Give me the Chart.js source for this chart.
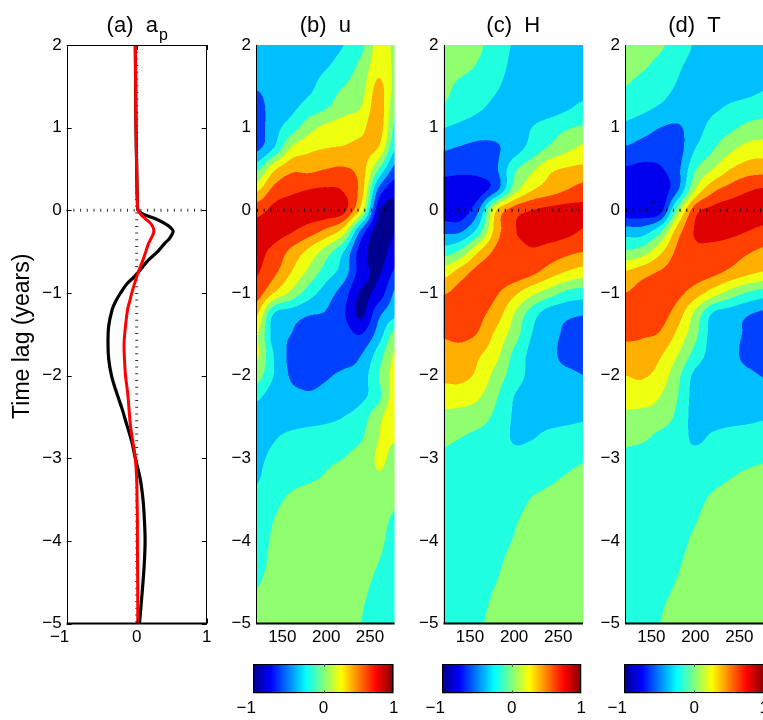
<!DOCTYPE html>
<html><head><meta charset="utf-8">
<script src="https://cdn.jsdelivr.net/npm/chart.js@4.4.1/dist/chart.umd.min.js"></script>
<style>
html,body{margin:0;padding:0;background:#fff;}
body{width:763px;height:720px;overflow:hidden;position:relative;}
canvas{position:absolute;}
</style></head><body>
<canvas id="cA" width="230" height="660" style="left:0px;top:0px;width:230px;height:660px"></canvas>
<canvas id="cB" width="185" height="660" style="left:230px;top:0px;width:185px;height:660px"></canvas>
<canvas id="cC" width="185" height="660" style="left:415px;top:0px;width:185px;height:660px"></canvas>
<canvas id="cD" width="170" height="660" style="left:595px;top:0px;width:170px;height:660px"></canvas>
<canvas id="bB" width="185" height="70" style="left:230px;top:650px;width:185px;height:70px"></canvas>
<canvas id="bC" width="185" height="70" style="left:415px;top:650px;width:185px;height:70px"></canvas>
<canvas id="bD" width="175" height="70" style="left:595px;top:650px;width:175px;height:70px"></canvas>
<script>
// ---------------- data ----------------
const lagTicks = [-5, -4, -3, -2, -1, 0, 1, 2];
const apTicks = [-1, 0, 1];
const lonTicks = [150, 200, 250];
const cbarTicks = [-1, 0, 1];

// panel (a): a_p correlation profiles vs time lag
const lagA   = [2, 1.5, 1, 0.5, 0.25, 0.1, 0, -0.05, -0.1, -0.15, -0.2, -0.25, -0.3, -0.35, -0.4, -0.5, -0.6, -0.7, -0.8, -0.9, -1.0, -1.1, -1.2, -1.4, -1.6, -1.8, -2.0, -2.2, -2.4, -2.6, -2.8, -3.0, -3.25, -3.5, -3.75, -4.0, -4.25, -4.5, -4.75, -5];
const blackA = [-0.02, -0.015, -0.01, 0.0, 0.005, 0.01, 0.02, 0.1, 0.26, 0.38, 0.47, 0.52, 0.5, 0.46, 0.4, 0.3, 0.17, 0.07, -0.03, -0.15, -0.23, -0.3, -0.35, -0.4, -0.41, -0.4, -0.36, -0.29, -0.21, -0.14, -0.07, -0.02, 0.05, 0.09, 0.11, 0.12, 0.11, 0.09, 0.065, 0.04];
const redA   = [-0.02, -0.015, -0.01, 0.0, 0.005, 0.01, 0.02, 0.06, 0.12, 0.19, 0.23, 0.245, 0.23, 0.2, 0.17, 0.13, 0.09, 0.045, 0.0, -0.035, -0.07, -0.1, -0.13, -0.16, -0.18, -0.175, -0.16, -0.13, -0.11, -0.09, -0.055, -0.02, 0.0, 0.005, 0.01, 0.01, 0.012, 0.014, 0.015, 0.015];

// contour grids: columns = longitude, rows = time lag
const fieldLon = [120, 140, 160, 180, 200, 220, 240, 260, 280];
const fieldLag = [2, 1.75, 1.5, 1.25, 1, 0.75, 0.5, 0.25, 0, -0.25, -0.5, -0.75, -1, -1.25, -1.5, -1.75, -2, -2.25, -2.5, -2.75, -3, -3.25, -3.5, -3.75, -4, -4.25, -4.5, -4.75, -5];

const uField = [
 [-0.28,-0.3,-0.3,-0.3,-0.28,-0.2,-0.05,0.28,0.15],
 [-0.32,-0.3,-0.3,-0.28,-0.22,-0.1,0.05,0.32,0.15],
 [-0.38,-0.32,-0.3,-0.25,-0.1,0.0,0.12,0.45,0.12],
 [-0.5,-0.3,-0.25,-0.12,-0.02,0.12,0.2,0.5,0.02],
 [-0.5,-0.28,-0.1,0.12,0.25,0.3,0.35,0.5,-0.08],
 [-0.45,-0.2,0.22,0.35,0.4,0.42,0.45,0.38,-0.22],
 [-0.08,0.35,0.55,0.55,0.6,0.62,0.5,0.0,-0.5],
 [0.35,0.65,0.75,0.8,0.82,0.78,0.5,-0.45,-0.75],
 [0.72,0.85,0.9,0.92,0.92,0.85,0.3,-0.75,-0.88],
 [0.88,0.88,0.82,0.7,0.55,0.3,-0.45,-0.9,-0.8],
 [0.85,0.75,0.55,0.35,0.1,-0.2,-0.7,-0.88,-0.7],
 [0.82,0.65,0.4,0.15,-0.1,-0.3,-0.7,-0.82,-0.55],
 [0.72,0.4,0.15,-0.1,-0.3,-0.5,-0.82,-0.72,-0.35],
 [0.45,-0.2,-0.3,-0.38,-0.42,-0.58,-0.84,-0.45,-0.25],
 [0.25,-0.28,-0.4,-0.5,-0.52,-0.52,-0.6,-0.3,0.1],
 [0.25,-0.2,-0.45,-0.52,-0.52,-0.5,-0.4,-0.1,0.25],
 [0.1,-0.2,-0.42,-0.45,-0.42,-0.36,-0.3,0.0,0.3],
 [-0.15,-0.3,-0.35,-0.38,-0.35,-0.32,-0.25,-0.05,0.35],
 [-0.3,-0.3,-0.3,-0.28,-0.25,-0.2,-0.1,0.15,0.35],
 [-0.3,-0.22,-0.15,-0.12,-0.1,-0.07,-0.02,0.2,0.22],
 [-0.25,-0.15,-0.08,-0.06,-0.03,0.0,0.08,0.22,0.15],
 [-0.22,-0.1,-0.05,-0.02,0.02,0.08,0.12,0.18,0.12],
 [-0.15,-0.05,0.03,0.08,0.1,0.12,0.12,0.12,0.05],
 [-0.12,0.0,0.08,0.1,0.12,0.12,0.12,0.08,-0.05],
 [-0.1,0.03,0.1,0.12,0.12,0.12,0.12,0.05,-0.1],
 [-0.08,0.05,0.1,0.12,0.12,0.12,0.1,0.0,-0.12],
 [-0.02,0.07,0.1,0.12,0.12,0.1,0.06,-0.05,-0.12],
 [0.03,0.08,0.1,0.12,0.12,0.1,0.02,-0.08,-0.12],
 [0.05,0.08,0.1,0.12,0.12,0.08,0.0,-0.1,-0.12]
];

const hField = [
 [0.15,0.1,0.03,-0.1,-0.22,-0.28,-0.3,-0.3,-0.3],
 [0.12,0.06,-0.02,-0.12,-0.25,-0.3,-0.32,-0.3,-0.28],
 [0.05,-0.05,-0.1,-0.18,-0.28,-0.32,-0.32,-0.3,-0.28],
 [-0.02,-0.1,-0.17,-0.25,-0.3,-0.32,-0.3,-0.23,-0.15],
 [-0.2,-0.25,-0.3,-0.33,-0.33,-0.2,-0.1,-0.02,0.03],
 [-0.38,-0.42,-0.45,-0.42,-0.3,-0.12,0.03,0.15,0.25],
 [-0.52,-0.55,-0.52,-0.42,-0.05,0.15,0.35,0.42,0.45],
 [-0.72,-0.72,-0.7,-0.45,0.1,0.38,0.5,0.6,0.68],
 [-0.72,-0.72,-0.4,0.4,0.7,0.8,0.85,0.87,0.85],
 [-0.45,-0.42,-0.1,0.5,0.78,0.85,0.88,0.85,0.78],
 [-0.1,0.05,0.4,0.65,0.72,0.78,0.72,0.65,0.6],
 [0.3,0.5,0.68,0.72,0.72,0.65,0.5,0.38,0.3],
 [0.58,0.68,0.7,0.62,0.45,0.25,0.1,-0.05,-0.1],
 [0.7,0.72,0.65,0.5,0.2,-0.1,-0.3,-0.35,-0.38],
 [0.62,0.65,0.58,0.35,0.1,-0.2,-0.32,-0.45,-0.55],
 [0.52,0.52,0.42,0.25,-0.05,-0.25,-0.32,-0.5,-0.55],
 [0.45,0.45,0.35,0.12,-0.1,-0.25,-0.3,-0.33,-0.4],
 [0.3,0.3,0.22,0.02,-0.2,-0.28,-0.3,-0.3,-0.3],
 [0.15,0.12,0.08,-0.05,-0.22,-0.27,-0.27,-0.25,-0.22],
 [0.05,0.0,-0.05,-0.1,-0.22,-0.21,-0.15,-0.12,-0.12],
 [-0.05,-0.08,-0.1,-0.12,-0.15,-0.12,-0.08,-0.05,-0.02],
 [-0.08,-0.1,-0.1,-0.12,-0.12,-0.08,-0.03,0.02,0.06],
 [-0.1,-0.1,-0.12,-0.12,-0.08,0.01,0.06,0.1,0.12],
 [-0.1,-0.1,-0.12,-0.08,-0.02,0.06,0.1,0.12,0.12],
 [-0.1,-0.1,-0.1,-0.06,0.01,0.08,0.12,0.12,0.12],
 [-0.1,-0.1,-0.08,-0.03,0.05,0.1,0.12,0.12,0.12],
 [-0.1,-0.1,-0.06,0.0,0.07,0.1,0.12,0.12,0.12],
 [-0.1,-0.08,-0.04,0.03,0.08,0.1,0.12,0.12,0.12],
 [-0.1,-0.07,-0.02,0.05,0.08,0.1,0.12,0.12,0.12]
];

const tField = [
 [0.15,0.1,0.03,-0.1,-0.22,-0.28,-0.3,-0.3,-0.3],
 [0.1,0.03,-0.06,-0.17,-0.26,-0.3,-0.32,-0.3,-0.28],
 [0.0,-0.08,-0.12,-0.22,-0.3,-0.33,-0.32,-0.28,-0.22],
 [-0.1,-0.15,-0.22,-0.3,-0.33,-0.25,-0.17,-0.12,-0.08],
 [-0.25,-0.32,-0.4,-0.42,-0.3,-0.12,-0.04,0.05,0.08],
 [-0.42,-0.48,-0.5,-0.48,-0.2,-0.02,0.15,0.27,0.3],
 [-0.62,-0.65,-0.62,-0.45,-0.02,0.2,0.4,0.5,0.52],
 [-0.72,-0.74,-0.72,-0.42,0.22,0.55,0.68,0.78,0.82],
 [-0.74,-0.74,-0.68,0.1,0.72,0.85,0.9,0.9,0.88],
 [-0.3,-0.3,-0.05,0.5,0.82,0.88,0.85,0.8,0.75],
 [0.02,0.1,0.35,0.65,0.75,0.72,0.68,0.62,0.55],
 [0.42,0.52,0.62,0.68,0.7,0.65,0.55,0.45,0.38],
 [0.6,0.68,0.72,0.65,0.5,0.3,0.12,-0.02,-0.1],
 [0.72,0.72,0.68,0.5,0.15,-0.22,-0.3,-0.38,-0.45],
 [0.65,0.62,0.58,0.35,0.05,-0.28,-0.32,-0.45,-0.58],
 [0.5,0.52,0.42,0.2,-0.08,-0.28,-0.33,-0.48,-0.58],
 [0.4,0.42,0.32,0.05,-0.25,-0.3,-0.32,-0.35,-0.42],
 [0.3,0.3,0.2,0.0,-0.28,-0.3,-0.3,-0.3,-0.3],
 [0.15,0.13,0.1,-0.05,-0.28,-0.28,-0.27,-0.25,-0.22],
 [0.05,0.03,-0.05,-0.12,-0.23,-0.17,-0.12,-0.1,-0.08],
 [-0.05,-0.08,-0.1,-0.18,-0.15,-0.12,-0.08,-0.05,-0.02],
 [-0.08,-0.1,-0.1,-0.12,-0.1,-0.05,0.0,0.05,0.08],
 [-0.1,-0.1,-0.12,-0.1,-0.05,0.03,0.08,0.1,0.12],
 [-0.1,-0.1,-0.12,-0.07,-0.01,0.07,0.1,0.12,0.12],
 [-0.1,-0.1,-0.1,-0.05,0.03,0.08,0.12,0.12,0.12],
 [-0.1,-0.1,-0.08,-0.02,0.06,0.1,0.12,0.12,0.12],
 [-0.1,-0.1,-0.06,0.01,0.07,0.1,0.12,0.12,0.12],
 [-0.1,-0.08,-0.02,0.04,0.08,0.1,0.12,0.12,0.12],
 [-0.1,-0.06,0.0,0.05,0.08,0.1,0.12,0.12,0.12]
];

// contour levels and their fill colours
const levels = [-1, -0.8, -0.6, -0.4, -0.2, 0, 0.2, 0.4, 0.6, 0.8, 1];
const bandColors = ['#00008F', '#0000EF', '#0040FF', '#00BFFF', '#20FFDF', '#8FFF70', '#EFFF10', '#FFAF00', '#FF4000', '#DF0000'];

// ---------------- helpers ----------------
Chart.defaults.font.family = "'Liberation Sans', Arial, Helvetica, sans-serif";
Chart.defaults.font.size = 17;
Chart.defaults.color = '#000';

const FONT = "'Liberation Sans', Arial, Helvetica, sans-serif";
const fmtNum = v => v < 0 ? '\u2212' + Math.abs(v) : String(v);
const fmtCentered = v => v < 0 ? '\u2212' + Math.abs(v) + '   ' : String(v);
const fixW = w => s => { s.width = w; s.paddingTop = 0; s.paddingBottom = 0; s.paddingLeft = 0; s.paddingRight = 0; };
const fixH = h => s => { s.height = h; s.paddingTop = 0; s.paddingBottom = 0; s.paddingLeft = 0; s.paddingRight = 0; };
const setTicks = list => s => { s.ticks = list.map(v => ({ value: v })); };

const bandRGB = bandColors.map(h => [parseInt(h.slice(1,3),16), parseInt(h.slice(3,5),16), parseInt(h.slice(5,7),16)]);
function bandOf(v) {
  for (let k = levels.length - 2; k >= 0; k--) if (v >= levels[k]) return k;
  return 0;
}
function cr(p0, p1, p2, p3, t) {
  return p1 + 0.5 * t * (p2 - p0 + t * (2*p0 - 5*p1 + 4*p2 - p3 + t * (3*(p1 - p2) + p3 - p0)));
}
function sampleField(F, lonV, lagV) {
  const nx = fieldLon.length, ny = fieldLag.length;
  const fx = (lonV - fieldLon[0]) / (fieldLon[1] - fieldLon[0]);
  const fy = (fieldLag[0] - lagV) / (fieldLag[0] - fieldLag[1]);
  const ix = Math.max(0, Math.min(nx - 2, Math.floor(fx)));
  const iy = Math.max(0, Math.min(ny - 2, Math.floor(fy)));
  const tx = Math.max(0, Math.min(1, fx - ix)), ty = Math.max(0, Math.min(1, fy - iy));
  const c = j => Math.max(0, Math.min(nx - 1, j));
  const r = j => Math.max(0, Math.min(ny - 1, j));
  const v = [];
  for (let k = -1; k <= 2; k++) {
    const row = F[r(iy + k)];
    v.push(cr(row[c(ix-1)], row[c(ix)], row[c(ix+1)], row[c(ix+2)], tx));
  }
  return cr(v[0], v[1], v[2], v[3], ty);
}

function drawTitle(chart, main, sub) {
  const { ctx, chartArea: a } = chart;
  ctx.save();
  ctx.fillStyle = '#000';
  ctx.textBaseline = 'alphabetic';
  ctx.textAlign = 'left';
  ctx.font = '22px ' + FONT;
  const wm = ctx.measureText(main).width;
  let ws = 0;
  if (sub) { ctx.font = '16px ' + FONT; ws = ctx.measureText(sub).width; }
  const x = (a.left + a.right) / 2 - (wm + ws) / 2;
  ctx.font = '22px ' + FONT;
  ctx.fillText(main, x, 32);
  if (sub) { ctx.font = '16px ' + FONT; ctx.fillText(sub, x + wm + 1, 40); }
  ctx.restore();
}

function baseOptions(p) {
  return {
    responsive: false, animation: false, devicePixelRatio: 1, events: [],
    layout: { padding: { left: p.padL || 0, right: p.padR, top: p.padT, bottom: 0 } },
    plugins: { legend: { display: false }, tooltip: { enabled: false }, title: { display: false } },
    scales: {
      x: {
        type: 'linear', position: 'bottom', min: p.xmin, max: p.xmax,
        grid: { display: false, drawTicks: false }, border: { display: false },
        afterBuildTicks: setTicks(p.xticks), afterFit: fixH(p.xH),
        ticks: { padding: p.xPad, maxRotation: 0, autoSkip: false, callback: p.xfmt, font: { size: 17 } }
      },
      y: p.yHidden ? { type: 'linear', display: false, min: 0, max: 1 } : {
        type: 'linear', position: 'left', min: -5, max: 2,
        grid: { display: false, drawTicks: false }, border: { display: false },
        afterBuildTicks: setTicks(lagTicks), afterFit: fixW(p.yW),
        ticks: { padding: 5, autoSkip: false, callback: fmtNum, font: { size: 17 } }
      }
    }
  };
}

// ---------------- panel (a) ----------------
const panelAPlugin = {
  id: 'panelA',
  beforeDatasetsDraw(chart) {
    const { ctx, chartArea: a, scales: { x, y } } = chart;
    const x0 = x.getPixelForValue(0), y0 = y.getPixelForValue(0);
    ctx.save();
    ctx.strokeStyle = '#333';
    ctx.lineWidth = 3;
    ctx.setLineDash([1, 5.7]);
    ctx.beginPath(); ctx.moveTo(x0, a.top); ctx.lineTo(x0, a.bottom); ctx.stroke();
    ctx.beginPath(); ctx.moveTo(a.left, y0); ctx.lineTo(a.right, y0); ctx.stroke();
    ctx.restore();
  },
  afterDraw(chart) {
    const { ctx, chartArea: a, scales: { x, y } } = chart;
    ctx.save();
    ctx.strokeStyle = '#000'; ctx.lineWidth = 1;
    ctx.strokeRect(Math.round(a.left) + 0.5, Math.round(a.top) + 0.5, Math.round(a.right - a.left) - 1, Math.round(a.bottom - a.top) - 1);
    ctx.lineWidth = 2;
    ctx.beginPath(); ctx.moveTo(a.left, a.bottom); ctx.lineTo(a.right, a.bottom); ctx.stroke();
    ctx.lineWidth = 1;
    ctx.beginPath();
    lagTicks.forEach(v => {
      const py = Math.round(y.getPixelForValue(v)) + 0.5;
      ctx.moveTo(a.left, py); ctx.lineTo(a.left + 5, py);
      ctx.moveTo(a.right, py); ctx.lineTo(a.right - 5, py);
    });
    apTicks.forEach(v => {
      const px = Math.round(x.getPixelForValue(v)) + 0.5;
      ctx.moveTo(px, a.bottom); ctx.lineTo(px, a.bottom - 5);
      ctx.moveTo(px, a.top); ctx.lineTo(px, a.top + 5);
    });
    ctx.stroke();
    // y axis title
    ctx.fillStyle = '#000';
    ctx.font = '23px ' + FONT;
    ctx.textAlign = 'center'; ctx.textBaseline = 'alphabetic';
    ctx.translate(28.5, (a.top + a.bottom) / 2 + 2);
    ctx.rotate(-Math.PI / 2);
    ctx.fillText('Time lag (years)', 0, 0);
    ctx.restore();
    drawTitle(chart, '(a)  a', 'p');
  }
};

new Chart(document.getElementById('cA'), {
  type: 'scatter',
  data: {
    datasets: [
      { label: 'red', data: lagA.map((l, i) => ({ x: redA[i], y: l })), showLine: true, borderColor: '#FF0000', borderWidth: 3, pointRadius: 0, tension: 0.35, order: 0 },
      { label: 'black', data: lagA.map((l, i) => ({ x: blackA[i], y: l })), showLine: true, borderColor: '#000000', borderWidth: 3.2, pointRadius: 0, tension: 0.35, order: 1 }
    ]
  },
  options: baseOptions({ padR: 23.3, padT: 45, xmin: -1, xmax: 1, xticks: apTicks, xH: 36.5, xPad: 4, xfmt: fmtCentered, yW: 66.7 }),
  plugins: [panelAPlugin]
});

// ---------------- contour panels ----------------
function contourPlugin(F, title) {
  return {
    id: 'contour',
    beforeDatasetsDraw(chart) {
      const { ctx, chartArea: a, scales: { x: xs, y: ys } } = chart;
      const x0 = Math.floor(a.left), x1 = Math.ceil(a.right), y0 = Math.floor(a.top), y1 = Math.ceil(a.bottom);
      const w = x1 - x0, h = y1 - y0;
      const off = document.createElement('canvas'); off.width = w; off.height = h;
      const octx = off.getContext('2d');
      const img = octx.createImageData(w, h); const d = img.data;
      const lons = [], lags = [];
      for (let i = 0; i < w; i++) lons.push([xs.getValueForPixel(x0 + i + 0.25), xs.getValueForPixel(x0 + i + 0.75)]);
      for (let j = 0; j < h; j++) lags.push([ys.getValueForPixel(y0 + j + 0.25), ys.getValueForPixel(y0 + j + 0.75)]);
      for (let j = 0; j < h; j++) {
        for (let i = 0; i < w; i++) {
          let r = 0, g = 0, b = 0;
          for (const lg of lags[j]) for (const ln of lons[i]) {
            const c = bandRGB[bandOf(sampleField(F, ln, lg))];
            r += c[0]; g += c[1]; b += c[2];
          }
          const k = (j * w + i) * 4;
          d[k] = r / 4; d[k+1] = g / 4; d[k+2] = b / 4; d[k+3] = 255;
        }
      }
      octx.putImageData(img, 0, 0);
      ctx.save();
      ctx.beginPath(); ctx.rect(a.left, a.top, a.right - a.left, a.bottom - a.top); ctx.clip();
      ctx.drawImage(off, x0, y0);
      ctx.restore();
    },
    afterDraw(chart) {
      const { ctx, chartArea: a, scales: { y } } = chart;
      const y0 = y.getPixelForValue(0);
      ctx.save();
      ctx.strokeStyle = '#000';
      ctx.lineWidth = 3; ctx.setLineDash([1, 5.7]);
      ctx.beginPath(); ctx.moveTo(a.left + 1, y0); ctx.lineTo(a.right, y0); ctx.stroke();
      ctx.setLineDash([]);
      ctx.lineWidth = 1;
      ctx.beginPath(); ctx.moveTo(Math.round(a.left) + 0.5, a.top); ctx.lineTo(Math.round(a.left) + 0.5, a.bottom); ctx.stroke();
      ctx.lineWidth = 2;
      ctx.beginPath(); ctx.moveTo(a.left, a.bottom); ctx.lineTo(a.right, a.bottom); ctx.stroke();
      ctx.restore();
      drawTitle(chart, title, null);
    }
  };
}

function contourChart(id, F, title, yW, padR) {
  new Chart(document.getElementById(id), {
    type: 'scatter',
    data: { datasets: [{ data: [] }] },
    options: baseOptions({ padR: padR, padT: 45, xmin: 120, xmax: 278, xticks: lonTicks, xH: 36.5, xPad: 4, xfmt: fmtNum, yW: yW }),
    plugins: [contourPlugin(F, title)]
  });
}
contourChart('cB', uField, '(b)  u', 26, 20.4);
contourChart('cC', hField, '(c)  H', 28.5, 17);
contourChart('cD', tField, '(d)  T', 30, 1);

// ---------------- colour bars ----------------
const cbarPlugin = {
  id: 'cbar',
  beforeDatasetsDraw(chart) {
    const { ctx, chartArea: a, scales: { x } } = chart;
    const g = ctx.createLinearGradient(x.getPixelForValue(-1), 0, x.getPixelForValue(1), 0);
    g.addColorStop(0, '#00008F'); g.addColorStop(0.125, '#0000FF'); g.addColorStop(0.375, '#00FFFF');
    g.addColorStop(0.625, '#FFFF00'); g.addColorStop(0.875, '#FF0000'); g.addColorStop(1, '#800000');
    ctx.save(); ctx.fillStyle = g; ctx.fillRect(a.left, a.top, a.right - a.left, a.bottom - a.top); ctx.restore();
  },
  afterDraw(chart) {
    const { ctx, chartArea: a, scales: { x } } = chart;
    ctx.save();
    ctx.strokeStyle = '#000'; ctx.lineWidth = 1;
    ctx.strokeRect(Math.round(a.left) + 0.5, Math.round(a.top) + 0.5, Math.round(a.right - a.left) - 1, Math.round(a.bottom - a.top) - 1);
    ctx.strokeStyle = '#555';
    ctx.beginPath();
    const px = Math.round(x.getPixelForValue(0)) + 0.5;
    ctx.moveTo(px, a.top); ctx.lineTo(px, a.top + 3);
    ctx.moveTo(px, a.bottom); ctx.lineTo(px, a.bottom - 3);
    ctx.stroke();
    ctx.restore();
  }
};
function cbarChart(id, padL, padR) {
  new Chart(document.getElementById(id), {
    type: 'scatter',
    data: { datasets: [{ data: [] }] },
    options: baseOptions({ padL: padL, padR: padR, padT: 14, xmin: -1, xmax: 1, xticks: cbarTicks, xH: 26.7, xPad: 5, xfmt: fmtCentered, yHidden: true }),
    plugins: [cbarPlugin]
  });
}
cbarChart('bB', 23.3, 21.3);
cbarChart('bC', 27.3, 18.7);
cbarChart('bD', 29.3, 5.7);
</script>
</body></html>
